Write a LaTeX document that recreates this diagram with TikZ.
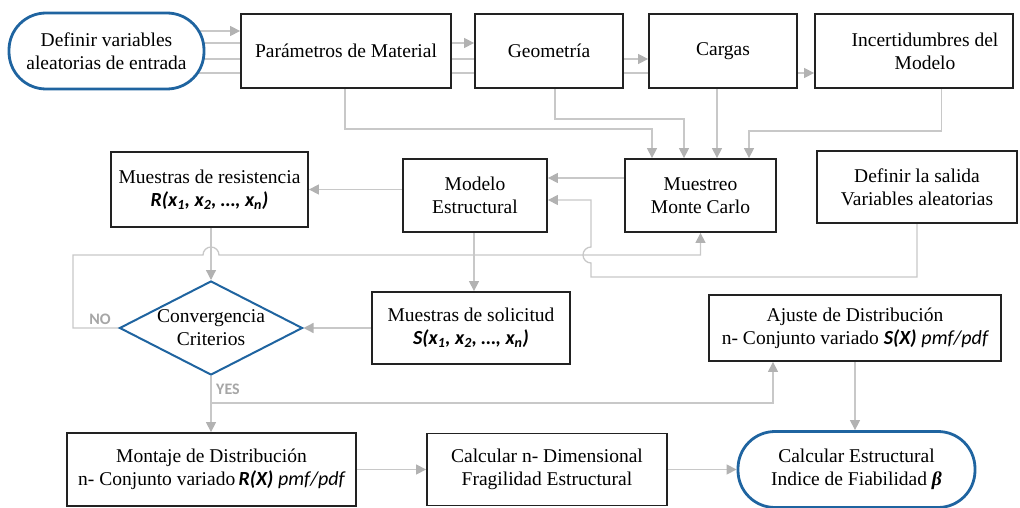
\documentclass[tikz,border=0pt]{standalone}
\usepackage{fontspec}
\setmainfont{Liberation Serif}
\newfontfamily\calib{Carlito}
\usetikzlibrary{arrows.meta,shapes.geometric,calc}
\pgfdeclarelayer{wires}
\pgfsetlayers{wires,main}
\definecolor{wire}{RGB}{200,200,200}
\definecolor{tipgray}{RGB}{178,178,178}
\definecolor{edgeblue}{RGB}{31,100,160}
\definecolor{boxline}{RGB}{34,34,34}
\definecolor{lblgray}{RGB}{166,166,166}
% bold-italic and italic sans fragments inside the serif labels
\newcommand{\cbi}[1]{{\calib\fontsize{20}{23}\selectfont\bfseries\itshape #1}}
\newcommand{\cit}[1]{{\calib\fontsize{20}{23}\selectfont\itshape #1}}
\begin{document}
\begin{tikzpicture}[x=1pt,y=-1pt,
  box/.style={draw=boxline, line width=1.8pt, fill=white, align=center,
    inner sep=2pt, font=\fontsize{19.5}{23}\selectfont},
  term/.style={box, draw=edgeblue, line width=2.8pt, rounded corners=37pt},
  decide/.style={diamond, draw=edgeblue, line width=2pt, fill=white, inner sep=0pt},
  conn/.style={draw=wire, line width=1.3pt},
  arr/.style={conn, -{Triangle[length=10pt,width=10pt,color=tipgray]}},
  lbl/.style={font=\calib\bfseries\fontsize{16}{18}\selectfont, text=lblgray, inner sep=0pt},
  txt/.style={align=center, inner sep=0pt, font=\fontsize{19.5}{23}\selectfont}]
\useasboundingbox (0,0) rectangle (1020,508);

% top row
\node[term, minimum width=195pt, minimum height=76pt] (defin) at (106.5,51)
  {Definir variables\\aleatorias de entrada};
\node[box, minimum width=210pt, minimum height=74pt] (param) at (346,51) {Parámetros de Material};
\node[box, minimum width=148pt, minimum height=74pt] (geom) at (549,51) {Geometría};
\node[box, minimum width=148pt, minimum height=74pt] (cargas) at (723,51) {Cargas};
\node[box, minimum width=198pt, minimum height=74pt] (incert) at (914,51)
  {\hspace*{22pt}Incertidumbres del\\\hspace*{22pt}Modelo};

% middle row
\node[box, minimum width=197pt, minimum height=75pt] (mresis) at (209.5,189.5)
  {Muestras de resistencia\\\cbi{R(x\textsubscript{1}, x\textsubscript{2}, …, x\textsubscript{n})}};
\node[box, minimum width=144pt, minimum height=73pt] (modelo) at (475,195.5) {Modelo\\Estructural};
\node[box, minimum width=151pt, minimum height=73pt] (muestreo) at (700.5,195.5) {Muestreo\\Monte Carlo};
\node[box, minimum width=200pt, minimum height=72pt] (defout) at (917,187) {Definir la salida\\Variables aleatorias};

% decision and sample row
\node[decide, minimum width=183pt, minimum height=94pt] (conv) at (211,328) {};
\node[txt] (convtxt) at (conv.center) {Convergencia\\Criterios};
\node[box, minimum width=198pt, minimum height=72pt] (msolic) at (471,328)
  {Muestras de solicitud\\\cbi{S(x\textsubscript{1}, x\textsubscript{2}, …, x\textsubscript{n})}};
\node[box, minimum width=292pt, minimum height=66pt] (ajuste) at (855,328)
  {Ajuste de Distribución\\n- Conjunto variado \cbi{S(X)} \cit{pmf/pdf}};

% bottom row
\node[box, minimum width=289pt, minimum height=73pt] (montaje) at (211.5,469.5)
  {Montaje de Distribución\\n- Conjunto variado\,\cbi{R(X)} \cit{pmf/pdf}};
\node[box, minimum width=240pt, minimum height=72pt] (calcn) at (547,469.5)
  {Calcular n- Dimensional\\Fragilidad Estructural};
\node[term, minimum width=237pt, minimum height=76pt] (calcest) at (856.5,469.5)
  {Calcular Estructural\\Indice de Fiabilidad {\bfseries\itshape β}};

% branch labels
\node[lbl] (nolbl) at (100,319) {NO};
\node[lbl] (yeslbl) at (228,389) {YES};

\begin{pgfonlayer}{wires}
  % input variables feed every parameter group
  \draw[arr] ([yshift=20pt]defin.center) -- ([yshift=20pt]param.west);
  \draw[arr] ([yshift=8pt]defin.center) -- ([yshift=8pt]geom.west);
  \draw[arr] ([yshift=-8pt]defin.center) -- ([yshift=-8pt]cargas.west);
  \draw[arr] ([yshift=-22pt]defin.center) -- ([yshift=-22pt]incert.west);

  % parameter groups into the sampler
  \draw[arr] ([xshift=-1pt]param.south) -- ([xshift=-1pt]param.south |- 0,129)
    -| ([xshift=-48.5pt]muestreo.north);
  \draw[arr] ([xshift=6pt]geom.south) -- ([xshift=6pt]geom.south |- 0,119)
    -| ([xshift=-16.5pt]muestreo.north);
  \draw[arr] ([xshift=16.5pt]muestreo.north |- cargas.south) -- ([xshift=16.5pt]muestreo.north);
  \draw[arr] ([xshift=27.5pt]incert.south) -- ([xshift=27.5pt]incert.south |- 0,131)
    -| ([xshift=48.5pt]muestreo.north);

  % sampler, model and samples
  \draw[arr] ([yshift=17.5pt]muestreo.west) -- ([yshift=17.5pt]modelo.east);
  \draw[arr] (modelo.west |- mresis.east) -- (mresis.east);
  \draw[arr] ([xshift=-1pt]modelo.south) -- ([xshift=-1pt]modelo.south |- msolic.north);
  \draw[arr] (msolic.west) -- (conv.east);
  \draw[arr] (conv.north |- mresis.south) -- (conv.north);

  % output definition back into the model, hopping over the loop line
  \draw[arr] (defout.south) -- (defout.south |- 0,277) -- (591,277) -- (591,263)
    arc[start angle=270, end angle=90, radius=8pt] -- (591,200) -- ([yshift=-4.5pt]modelo.east);

  % NO: back to the sampler
  \draw[arr] (conv.west) -| (73,255) -- ([xshift=-8pt]conv.north |- 0,255)
    arc[start angle=180, end angle=0, radius=8pt] -- (muestreo.south |- 0,255) -- (muestreo.south);

  % YES: fit distributions
  \draw[arr] (conv.south) -- (conv.south |- montaje.north);
  \draw[arr] (conv.south |- 0,403) -| ([xshift=-82pt]ajuste.south);
  \draw[arr] (ajuste.south) -- (ajuste.south |- calcest.north);
  \draw[arr] (montaje.east) -- (calcn.west);
  \draw[arr] (calcn.east) -- (calcest.west);
\end{pgfonlayer}
\end{tikzpicture}
\end{document}
